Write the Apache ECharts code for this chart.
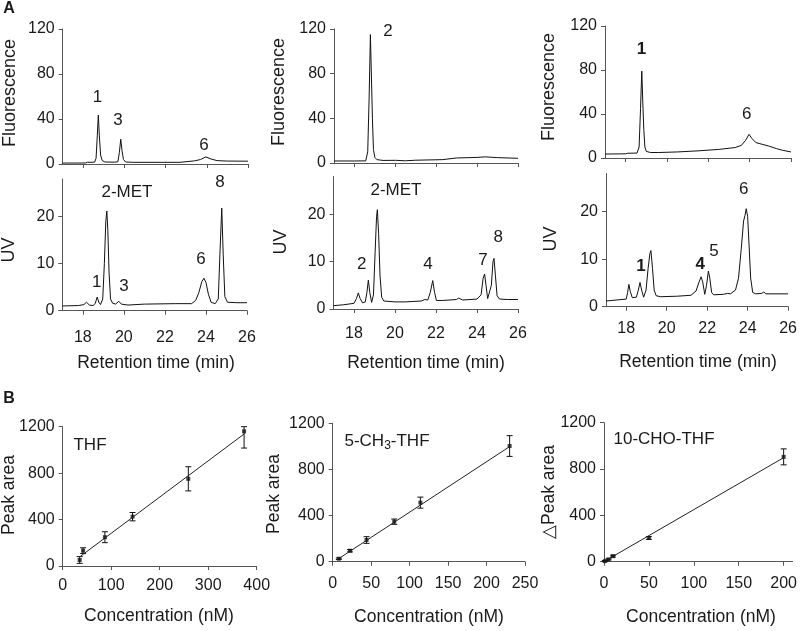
<!DOCTYPE html>
<html><head><meta charset="utf-8">
<script src="https://cdn.jsdelivr.net/npm/echarts@6/dist/echarts.min.js"></script>
<style>html,body{margin:0;padding:0;background:#fff}#c{width:800px;height:631px}</style>
</head><body><div id="c"></div>
<script>
// ---------- DATA ----------
const rtTicks = [18, 20, 22, 24, 26];
const fluoTicks = [0, 40, 80, 120];
const uvTicks = [0, 10, 20];
const areaTicks = [0, 400, 800, 1200];
const thfConcTicks = [0, 100, 200, 300, 400];
const ch3ConcTicks = [0, 50, 100, 150, 200, 250];
const choConcTicks = [0, 50, 100, 150, 200];

// Fluorescence chromatograms [retention time, signal]
const fluo1 = [[17.0,0.8],[18.1,0.9],[18.2,1.5],[18.55,1.6],[18.62,5],[18.68,25],[18.73,43.5],[18.78,25],[18.84,8],[18.92,3],[19.05,1.8],[19.5,1.6],[19.68,2],[19.75,10],[19.82,22],[19.88,12],[19.95,4],[20.05,1.8],[20.4,1.5],[22.7,1.5],[22.75,2.5],[23.4,2.8],[23.7,4],[23.95,6.3],[24.2,4.5],[24.5,3],[25.0,2.6],[26.0,2.5]];
const fluo2 = [[17.0,1.8],[18.0,1.8],[18.55,1.9],[18.65,10],[18.72,60],[18.78,115],[18.84,70],[18.88,40],[18.93,12],[19.0,5],[19.1,3],[19.4,2.3],[20.0,2.4],[20.5,2.0],[21.0,2.5],[22.3,3.0],[23.0,4.5],[24.0,5],[24.4,5.5],[25.0,4.8],[26.0,4.2]];
const fluo3 = [[17.0,3.6],[18.0,3.8],[18.1,4.3],[18.55,4.5],[18.65,10],[18.72,45],[18.78,79],[18.83,50],[18.88,25],[18.93,10],[19.0,6],[19.2,5],[19.6,5],[20.5,5.5],[21.5,6.5],[22.5,7.8],[23.3,9.5],[23.6,11.5],[23.8,16],[23.97,21.5],[24.1,18],[24.3,14],[24.6,12.5],[24.9,11],[25.3,8.5],[25.6,7],[26.0,5.5]];
// UV chromatograms
const uv1 = [[17.0,1.0],[17.8,1.1],[18.05,1.3],[18.18,1.8],[18.32,1.2],[18.5,1.1],[18.6,1.5],[18.7,2.9],[18.78,1.8],[18.86,1.3],[18.97,2.5],[19.05,10],[19.12,19],[19.17,21.2],[19.22,17],[19.28,8],[19.35,2.5],[19.45,1.6],[19.6,1.4],[19.75,2.0],[19.88,1.4],[20.2,1.2],[21.0,1.4],[22.5,1.5],[23.3,1.5],[23.5,2.2],[23.65,3.8],[23.8,6.2],[23.9,6.9],[24.0,6.0],[24.12,3.5],[24.25,1.8],[24.45,1.5],[24.6,2.5],[24.68,12],[24.77,21.8],[24.84,12],[24.92,3],[25.05,1.8],[25.5,1.7],[26.0,1.7]];
const uv2 = [[17.0,0.7],[17.5,0.9],[18.0,1.2],[18.12,2.2],[18.21,3.4],[18.3,2.2],[18.42,1.3],[18.55,1.5],[18.63,3.5],[18.7,6.1],[18.77,3.5],[18.86,1.4],[18.95,3],[19.03,12],[19.1,19.5],[19.14,21],[19.2,16],[19.27,7],[19.35,2.5],[19.45,1.7],[20.0,1.5],[20.5,1.5],[21.3,1.7],[21.45,2.0],[21.6,1.9],[21.72,3.5],[21.84,6.0],[21.93,3.5],[22.02,1.8],[22.3,1.8],[23.0,2.0],[23.1,2.3],[23.3,1.9],[24.0,2.1],[24.2,3],[24.3,6.5],[24.37,7.4],[24.44,5],[24.52,2.2],[24.6,1.8],[24.7,5],[24.78,10],[24.83,10.7],[24.9,7],[24.98,2.8],[25.1,2.1],[25.5,2.0],[26.0,2.0]];
const uv3 = [[17.0,1.2],[17.5,1.4],[18.0,1.6],[18.07,3],[18.13,4.7],[18.2,3.2],[18.3,1.9],[18.5,2.0],[18.6,3.5],[18.68,5.1],[18.76,3.5],[18.86,2.0],[18.98,3.5],[19.08,8],[19.17,11.2],[19.22,11.8],[19.3,8],[19.38,3.5],[19.48,2.3],[19.7,2.1],[20.5,2.2],[21.2,2.4],[21.45,3.3],[21.6,5.2],[21.7,6.3],[21.78,5.2],[21.88,2.6],[21.97,4.5],[22.06,7.5],[22.13,6],[22.22,3],[22.32,2.5],[22.8,2.6],[23.0,2.8],[23.15,2.7],[23.4,3.5],[23.55,6],[23.68,12],[23.8,18],[23.87,19.2],[23.93,20.6],[24.0,19],[24.07,13],[24.15,6],[24.25,3],[24.4,2.7],[24.7,2.8],[24.8,3.1],[24.9,2.7],[25.5,2.7],[26.0,2.7]];

// Calibration: THF
const thfConc = [35, 42, 87, 144, 259, 374];
const thfArea = [52, 132, 248, 425, 751, 1160];
const thfErrLow = [23, 107, 201, 389, 647, 1016];
const thfErrHigh = [81, 157, 295, 461, 855, 1200];
const thfFit = [[37, 85], [375, 1140]];
// 5-CH3-THF
const ch3Conc = [8, 22.5, 44, 80, 114, 230];
const ch3Area = [26, 95, 188, 347, 512, 1003];
const ch3ErrLow = [20, 85, 159, 324, 464, 913];
const ch3ErrHigh = [32, 105, 217, 370, 560, 1093];
const ch3Fit = [[7, 23], [230, 998]];
// 10-CHO-THF
const choConc = [1, 5, 10, 50, 200];
const choArea = [5, 20, 48, 205, 905];
const choErrLow = [0, 15, 40, 193, 836];
const choErrHigh = [10, 25, 56, 217, 974];
const choFit = [[2, 10], [200, 898]];

// ---------- CHART ----------
const FONT = '"Liberation Sans", Arial, sans-serif';
const AX = '#555';
const TXT = '#1a1a1a';

const grids = [
  {left:62.7, top:29, width:185.3, height:135},
  {left:334, top:29, width:184, height:134},
  {left:605, top:26, width:186, height:132},
  {left:62.3, top:179, width:184.7, height:131.7},
  {left:333.5, top:176.5, width:184.5, height:132.5},
  {left:606, top:173.5, width:185.7, height:133.2},
  {left:62.7, top:426.7, width:194, height:139.3},
  {left:332.7, top:423.3, width:192.3, height:138.4},
  {left:604, top:422.7, width:191, height:139}
];

function axis(gridIndex, min, max, ticks, showLabels, margin) {
  return {
    type: 'value', gridIndex, min, max,
    axisLine: {show: true, onZero: false, lineStyle: {color: AX, width: 1}},
    axisTick: {show: true, length: 4, lineStyle: {color: AX}, customValues: ticks},
    axisLabel: {show: showLabels, customValues: ticks, fontSize: 16, color: TXT, fontFamily: FONT, margin,
      formatter: v => String(v)},
    splitLine: {show: false}
  };
}

const xMargins = [12, 12, 12, 19, 17, 14, 12, 14, 14];
const xAxes = [], yAxes = [];
for (let i = 0; i < 3; i++) { xAxes.push(axis(i, 17, 26, rtTicks, false, 12)); yAxes.push(axis(i, 0, 120, fluoTicks, true, 8)); }
for (let i = 3; i < 6; i++) { xAxes.push(axis(i, 17, 26, rtTicks, true, xMargins[i])); yAxes.push(axis(i, 0, 28, uvTicks, true, 8)); }
xAxes.push(axis(6, 0, 400, thfConcTicks, true, xMargins[6])); yAxes.push(axis(6, 0, 1200, areaTicks, true, 8));
xAxes.push(axis(7, 0, 250, ch3ConcTicks, true, xMargins[7])); yAxes.push(axis(7, 0, 1200, areaTicks, true, 8));
xAxes.push(axis(8, 0, 210, choConcTicks, true, xMargins[8])); yAxes.push(axis(8, 0, 1200, areaTicks, true, 8));

const series = [];
[fluo1, fluo2, fluo3, uv1, uv2, uv3].forEach((d, i) => {
  series.push({type: 'line', xAxisIndex: i, yAxisIndex: i, data: d, symbol: 'none', silent: true,
    lineStyle: {color: '#111', width: 1}});
});
function zip(a, b) { return a.map((v, i) => [v, b[i]]); }
function zip3(a, b, c) { return a.map((v, i) => [v, b[i], c[i]]); }
const calib = [
  [thfConc, thfArea, thfErrLow, thfErrHigh, thfFit],
  [ch3Conc, ch3Area, ch3ErrLow, ch3ErrHigh, ch3Fit],
  [choConc, choArea, choErrLow, choErrHigh, choFit]
];
calib.forEach((c, k) => {
  const idx = 6 + k;
  series.push({type: 'line', xAxisIndex: idx, yAxisIndex: idx, data: c[4], symbol: 'none', silent: true,
    lineStyle: {color: '#222', width: 1}});
  series.push({type: 'custom', xAxisIndex: idx, yAxisIndex: idx, data: zip3(c[0], c[2], c[3]), silent: true,
    renderItem: function (params, api) {
      const x = api.value(0), lo = api.value(1), hi = api.value(2);
      const a = api.coord([x, lo]), b = api.coord([x, hi]);
      const w = 3, st = {stroke: '#111', lineWidth: 1};
      return {type: 'group', children: [
        {type: 'line', shape: {x1: a[0], y1: a[1], x2: b[0], y2: b[1]}, style: st},
        {type: 'line', shape: {x1: a[0]-w, y1: a[1], x2: a[0]+w, y2: a[1]}, style: st},
        {type: 'line', shape: {x1: b[0]-w, y1: b[1], x2: b[0]+w, y2: b[1]}, style: st}
      ]};
    }});
  series.push({type: 'scatter', xAxisIndex: idx, yAxisIndex: idx, data: zip(c[0], c[1]), symbol: 'rect', symbolSize: 4, silent: true,
    itemStyle: {color: '#111'}});
});

function txt(x, y, text, size, opts) {
  opts = opts || {};
  return {type: 'text', x, y, rotation: opts.rot || 0, silent: true,
    style: {text, fontSize: size, fontFamily: FONT, fill: TXT, fontWeight: opts.bold ? 'bold' : 'normal',
      textAlign: 'center', textVerticalAlign: 'middle', rich: opts.rich}};
}
const R = Math.PI / 2;
const graphic = [
  txt(9, 9, 'A', 16, {bold: true}),
  txt(9, 399, 'B', 16, {bold: true}),
  txt(10, 93, 'Fluorescence', 18, {rot: R}),
  txt(279, 92, 'Fluorescence', 18, {rot: R}),
  txt(549, 87, 'Fluorescence', 18, {rot: R}),
  txt(9, 250, 'UV', 18, {rot: R}),
  txt(281, 242, 'UV', 18, {rot: R}),
  txt(551, 239, 'UV', 18, {rot: R}),
  txt(156, 363, 'Retention time (min)', 17.5),
  txt(426, 363, 'Retention time (min)', 17.5),
  txt(698, 362, 'Retention time (min)', 17.5),
  txt(9, 495, 'Peak area', 17.5, {rot: R}),
  txt(274, 494, 'Peak area', 17.5, {rot: R}),
  txt(549, 492, '\u25B3Peak area', 17.5, {rot: R}),
  txt(159, 616, 'Concentration (nM)', 17.5),
  txt(429, 617, 'Concentration (nM)', 17.5),
  txt(701, 617, 'Concentration (nM)', 17.5),
  txt(90, 445, 'THF', 17),
  txt(387, 441, '5-CH{sub|3}-THF', 17, {rich: {sub: {fontSize: 12, fontFamily: FONT, fill: TXT, padding: [10, 0, 0, 0]}}}),
  txt(664, 439, '10-CHO-THF', 17),
  // peak labels
  txt(97.5, 97, '1', 17), txt(118, 120, '3', 17), txt(204, 145, '6', 17),
  txt(388, 31, '2', 17),
  txt(641.5, 49, '1', 17, {bold: true}), txt(746.7, 114, '6', 17),
  txt(127, 192.5, '2-MET', 17), txt(220, 182, '8', 17), txt(201, 259, '6', 17), txt(96.7, 282, '1', 17), txt(124, 286, '3', 17),
  txt(396, 190, '2-MET', 17), txt(361.7, 264, '2', 17), txt(428, 264, '4', 17), txt(483, 260, '7', 17), txt(498.3, 237, '8', 17),
  txt(743.7, 189, '6', 17), txt(641, 266, '1', 17, {bold: true}), txt(700.3, 264, '4', 17, {bold: true}), txt(714, 251, '5', 17)
];

const chart = echarts.init(document.getElementById('c'), null, {renderer: 'canvas'});
chart.setOption({
  animation: false,
  backgroundColor: '#fff',
  grid: grids,
  xAxis: xAxes,
  yAxis: yAxes,
  series,
  graphic
});
</script></body></html>
